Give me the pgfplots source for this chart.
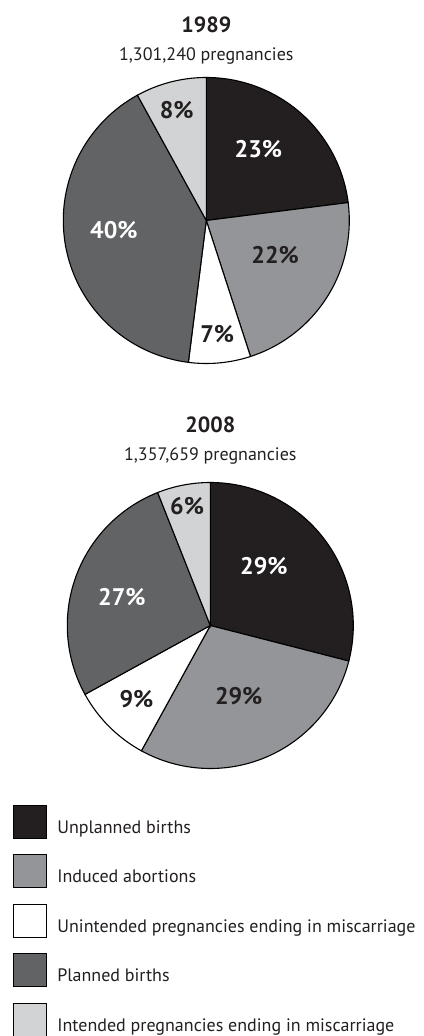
\documentclass[border=0pt]{standalone}
\usepackage{fontspec}
\setmainfont{PT Sans}
\usepackage{pgfplots}
\pgfplotsset{compat=1.18}
\definecolor{cUnpl}{HTML}{231F20}
\definecolor{cInd}{HTML}{939598}
\definecolor{cUnint}{HTML}{FFFFFF}
\definecolor{cPlan}{HTML}{626365}
\definecolor{cInt}{HTML}{D1D3D4}
\definecolor{txt}{HTML}{231F20}
\newcommand\labfont{\fontsize{24}{24}\selectfont\bfseries}
% #1 cumulative start (%), #2 share (%), #3 fill, #4 label angle, #5 label radius, #6 label colour
\newcommand\slice[6]{%
  \pgfmathsetmacro\sa{90-3.6*(#1+#2)}%
  \pgfmathsetmacro\sb{90-3.6*(#1)}%
  \pgfmathsetmacro\mx{#5*cos(#4)}%
  \pgfmathsetmacro\my{#5*sin(#4)}%
  \edef\tmp{\noexpand\addplot[fill=#3, draw=black, line width=1.1pt, domain=\sa:\sb, samples=120] ({cos(x)},{sin(x)}) -- (axis cs:0,0) -- cycle;
  \noexpand\node[font=\noexpand\labfont, text=#6] at (axis cs:\mx,\my) {#2\noexpand\%};}%
  \tmp}
\pgfplotsset{pie/.style={hide axis, scale only axis, width=286pt, height=286pt,
  xmin=-1, xmax=1, ymin=-1, ymax=1, clip=false, anchor=center}}
\begin{document}
\begin{tikzpicture}[every node/.style={text=txt}]
\useasboundingbox (0pt,0pt) rectangle (423pt,1036pt);
\begin{axis}[pie, at={(206.3pt,815.5pt)}]
  \slice{0}{23}{cUnpl}{54}{0.62}{white}
  \slice{23}{22}{cInd}{-27}{0.54}{txt}
  \slice{45}{7}{cUnint}{-84.5}{0.8}{txt}
  \slice{52}{40}{cPlan}{-174}{0.65}{white}
  \slice{92}{8}{cInt}{105}{0.8}{txt}
  \node[anchor=base, font=\fontsize{22}{22}\selectfont\bfseries] at (axis description cs:0.5,1) [yshift=45.3pt] {1989};
  \node[anchor=base, font=\fontsize{18}{18}\selectfont] at (axis description cs:0.5,1) [yshift=16.5pt] {1,301,240 pregnancies};
\end{axis}
\begin{axis}[pie, at={(210.3pt,410.5pt)},
  legend entries={Unplanned births, Induced abortions, Unintended pregnancies ending in miscarriage, Planned births, Intended pregnancies ending in miscarriage},
  legend image code/.code={\draw[#1, line width=1.1pt] (0pt,-10.5pt) rectangle (33pt,22.5pt); \path[draw=none, fill=none] (33pt,0pt) -- (44pt,0pt);},
  legend cell align=left,
  legend style={draw=none, fill=none, inner sep=0pt, outer sep=0pt, row sep=15.4pt,
    font=\fontsize{18}{18}\selectfont,
    at={(axis description cs:-0.1905,-0.126)}, anchor=north west,
    nodes={inner sep=0pt, text=txt}}]
  \slice{0}{29}{cUnpl}{48}{0.56}{white}
  \slice{29}{29}{cInd}{-68}{0.53}{txt}
  \slice{58}{9}{cUnint}{-135}{0.73}{txt}
  \slice{67}{27}{cPlan}{162}{0.65}{white}
  \slice{94}{6}{cInt}{101}{0.85}{txt}
  \node[anchor=base, font=\fontsize{22}{22}\selectfont\bfseries] at (axis description cs:0.5,1) [yshift=50.2pt] {2008};
  \node[anchor=base, font=\fontsize{18}{18}\selectfont] at (axis description cs:0.5,1) [yshift=21.5pt] {1,357,659 pregnancies};
\end{axis}
\end{tikzpicture}
\end{document}
